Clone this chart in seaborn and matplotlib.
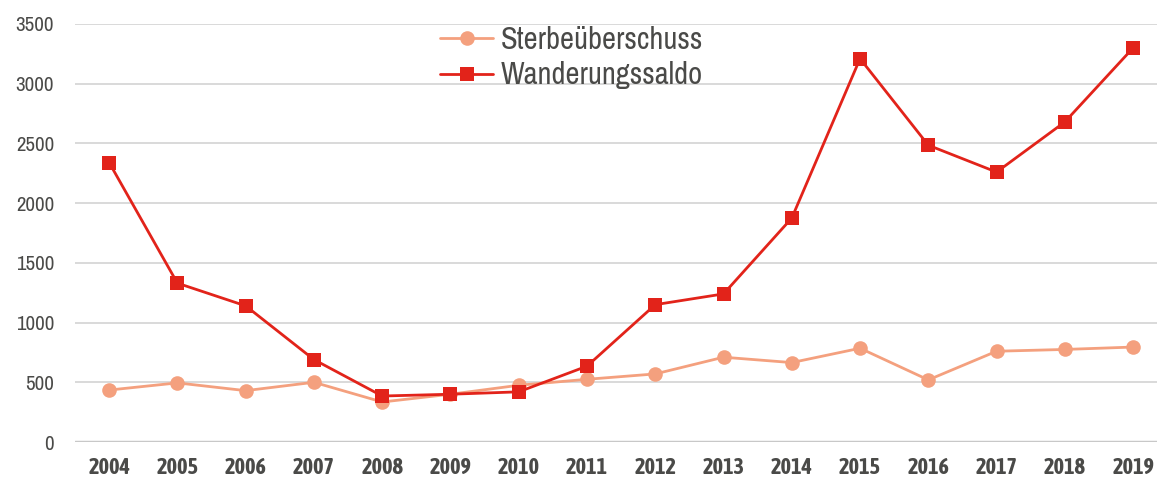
import seaborn as sns
import matplotlib.pyplot as plt
import pandas as pd
from matplotlib import font_manager

# Daten
jahre = ['2004', '2005', '2006', '2007', '2008', '2009', '2010', '2011',
         '2012', '2013', '2014', '2015', '2016', '2017', '2018', '2019']
sterbeueberschuss = [435, 495, 430, 500, 335, 400, 475, 525,
                     570, 710, 665, 785, 520, 760, 775, 795]
wanderungssaldo = [2340, 1330, 1140, 690, 385, 400, 420, 635,
                   1150, 1240, 1875, 3210, 2485, 2260, 2680, 3300]

df = pd.DataFrame({'Jahr': jahre,
                   'Sterbeüberschuss': sterbeueberschuss,
                   'Wanderungssaldo': wanderungssaldo})
lang = df.melt(id_vars='Jahr', var_name='Reihe', value_name='Wert')

sns.set_theme(style="white")

# schmale Schrift suchen, falls vorhanden
fonts = font_manager.fontManager.ttflist
schmal = sorted({f.name for f in fonts if 'Narrow' in f.name or 'Condensed' in f.name})
fett = [n for n in schmal
        if any(f.name == n and (f.weight == 'bold' or (isinstance(f.weight, int) and f.weight >= 600))
               for f in fonts)]
plt.rcParams['font.family'] = schmal[:1] + ['Liberation Sans', 'DejaVu Sans']
jahr_familie = (fett[:1] or schmal[:1]) + ['Liberation Sans', 'DejaVu Sans']
if schmal:
    groesse_y, groesse_x, groesse_leg = 15, 16, 22
else:
    groesse_y, groesse_x, groesse_leg = 13, 14, 19

farben = {'Sterbeüberschuss': '#F4A07E', 'Wanderungssaldo': '#E2231A'}
marker = {'Sterbeüberschuss': 'o', 'Wanderungssaldo': 's'}
textfarbe = '#4a4a48'

fig = plt.figure(figsize=(11.57, 4.79), dpi=100)
ax = fig.add_axes([75 / 1157, 37 / 479, 1 - 75 / 1157, 418 / 479])

sns.lineplot(data=lang, x='Jahr', y='Wert', hue='Reihe', style='Reihe',
             palette=farben, markers=marker, dashes=False, linewidth=2,
             markersize=10.5, markeredgewidth=0, ax=ax)

ax.set_xlim(-0.5, 15.35)
ax.set_ylim(0, 3500)
ax.set_yticks(range(0, 3501, 500))
ax.grid(axis='y', color='#d9d9d9', linewidth=1.4)
ax.set_axisbelow(True)
for s in ax.spines.values():
    s.set_visible(False)
ax.axhline(0, color='#c8c8c8', linewidth=2.5, zorder=1)

ax.set_xlabel('')
ax.set_ylabel('')
ax.tick_params(axis='y', labelsize=groesse_y, labelcolor=textfarbe, length=0, pad=15)
ax.tick_params(axis='x', labelsize=groesse_x, labelcolor=textfarbe, length=0, pad=11)
for t in ax.get_xticklabels():
    t.set_fontweight('bold')
    t.set_family(jahr_familie)

leg = ax.legend(loc='upper left', bbox_to_anchor=(0.326, 1.025), frameon=False,
                fontsize=groesse_leg, handlelength=1.75, handletextpad=0.25,
                labelspacing=0.25, borderaxespad=0)
for t in leg.get_texts():
    t.set_color(textfarbe)

fig.savefig('out.png', dpi=100)
